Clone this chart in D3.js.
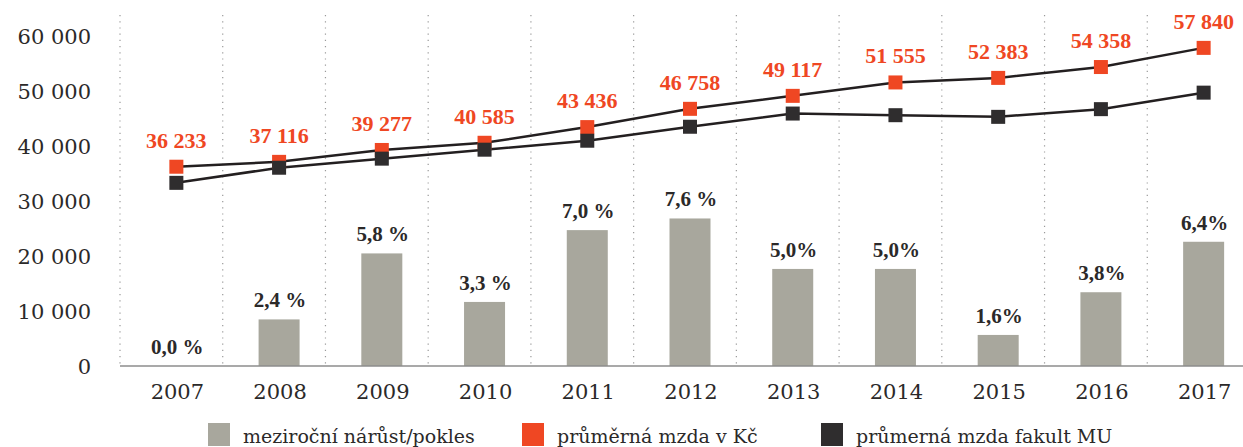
<!DOCTYPE html>
<html>
<head>
<meta charset="utf-8">
<script src="https://cdn.jsdelivr.net/npm/d3@7"></script>
<style>
  html, body { margin: 0; padding: 0; background: #fff; }
  #chart { width: 1243px; height: 447px; }
</style>
</head>
<body>
<div id="chart"></div>
<script>
// data
const years = ["2007", "2008", "2009", "2010", "2011", "2012", "2013", "2014", "2015", "2016", "2017"];
const growthPct = [0.0, 2.4, 5.8, 3.3, 7.0, 7.6, 5.0, 5.0, 1.6, 3.8, 6.4];
const growthLabels = ["0,0 %", "2,4 %", "5,8 %", "3,3 %", "7,0 %", "7,6 %", "5,0%", "5,0%", "1,6%", "3,8%", "6,4%"];
const wageCZ = [36233, 37116, 39277, 40585, 43436, 46758, 49117, 51555, 52383, 54358, 57840];
const wageMU = [33300, 36050, 37700, 39330, 40960, 43500, 45900, 45600, 45300, 46700, 49700];
const yTicks = [0, 10000, 20000, 30000, 40000, 50000, 60000];
const legendLabels = ["meziroční nárůst/pokles", "průměrná mzda v Kč", "průmerná mzda fakult MU"];

const COLORS = { bar: "#a8a79d", red: "#ef4723", dark: "#2f2d2e", line: "#231f20", text: "#2b2929" };

const width = 1243, height = 447;
const svg = d3.select("#chart").append("svg")
    .attr("width", width)
    .attr("height", height);

const x = d3.scaleBand().domain(years).range([122, 1252]);
const y = d3.scaleLinear().domain([0, 60000]).range([366, 36]);
// bars use a hidden percent axis sharing the same pixel range
const yPct = d3.scaleLinear().domain([0, 17]).range([366, 36]);
const cx = (d) => x(d) + x.bandwidth() / 2;

const fmt = (v) => d3.format(",")(v).replace(/,/g, " ");

// dotted vertical grid
const gridG = svg.append("g");
gridG.selectAll("line")
    .data(years)
    .join("line")
    .attr("x1", (d) => x(d) - 2)
    .attr("x2", (d) => x(d) - 2)
    .attr("y1", 15)
    .attr("y2", 366)
    .attr("stroke", "#9a9a9a")
    .attr("stroke-width", 1.2)
    .attr("stroke-dasharray", "1.2,5");

// y tick labels
svg.append("g").selectAll("text")
    .data(yTicks)
    .join("text")
    .attr("x", 91)
    .attr("y", (d) => y(d) + 1)
    .attr("dy", "0.35em")
    .attr("text-anchor", "end")
    .style("font-family", "'DejaVu Serif', serif")
    .style("font-size", "21px")
    .style("fill", COLORS.text)
    .text((d) => fmt(d));

// bars
svg.append("g").selectAll("rect")
    .data(years)
    .join("rect")
    .attr("x", (d) => cx(d) - 20.5 + 3)
    .attr("width", 41)
    .attr("y", (d, i) => yPct(growthPct[i]))
    .attr("height", (d, i) => yPct(0) - yPct(growthPct[i]))
    .attr("fill", COLORS.bar);

// x axis line
svg.append("line")
    .attr("x1", 120).attr("x2", width)
    .attr("y1", y(0)).attr("y2", y(0))
    .attr("stroke", "#8c8c8c")
    .attr("stroke-width", 1.5);

// year labels
svg.append("g").selectAll("text")
    .data(years)
    .join("text")
    .attr("x", (d) => cx(d) + 4)
    .attr("y", 399)
    .attr("text-anchor", "middle")
    .style("font-family", "'DejaVu Serif', serif")
    .style("font-size", "21px")
    .style("fill", COLORS.text)
    .text((d) => d);

// percentage labels
svg.append("g").selectAll("text")
    .data(years)
    .join("text")
    .attr("x", (d) => cx(d) + 4)
    .attr("y", (d, i) => yPct(growthPct[i]) - 12)
    .attr("text-anchor", "middle")
    .style("font-family", "'Liberation Serif', serif")
    .style("font-weight", "bold")
    .style("font-size", "21px")
    .style("fill", COLORS.text)
    .text((d, i) => growthLabels[i]);

// lines
const lineGen = (vals) => d3.line()
    .x((d) => cx(d) + 3)
    .y((d, i) => y(vals[i]));

svg.append("path")
    .datum(years)
    .attr("d", lineGen(wageCZ))
    .attr("fill", "none")
    .attr("stroke", COLORS.line)
    .attr("stroke-width", 2.5);

svg.append("path")
    .datum(years)
    .attr("d", lineGen(wageMU))
    .attr("fill", "none")
    .attr("stroke", COLORS.line)
    .attr("stroke-width", 2.5);

// markers (MU drawn above CZ)
const mk = 14;
svg.append("g").selectAll("rect")
    .data(years)
    .join("rect")
    .attr("x", (d) => cx(d) + 3 - mk / 2)
    .attr("y", (d, i) => y(wageCZ[i]) - mk / 2)
    .attr("width", mk).attr("height", mk)
    .attr("fill", COLORS.red);

svg.append("g").selectAll("rect")
    .data(years)
    .join("rect")
    .attr("x", (d) => cx(d) + 3 - mk / 2)
    .attr("y", (d, i) => y(wageMU[i]) - mk / 2)
    .attr("width", mk).attr("height", mk)
    .attr("fill", COLORS.dark);

// value labels above the red series
svg.append("g").selectAll("text")
    .data(years)
    .join("text")
    .attr("x", (d) => cx(d) + 3)
    .attr("y", (d, i) => y(wageCZ[i]) - 19)
    .attr("text-anchor", "middle")
    .style("font-family", "'Liberation Serif', serif")
    .style("font-weight", "bold")
    .style("font-size", "22px")
    .style("fill", COLORS.red)
    .text((d, i) => fmt(wageCZ[i]));

// legend
const legendX = [208, 522, 821];
const legendColors = [COLORS.bar, COLORS.red, COLORS.dark];
const legend = svg.append("g").selectAll("g")
    .data(legendLabels)
    .join("g")
    .attr("transform", (d, i) => `translate(${legendX[i]},423)`);

legend.append("rect")
    .attr("width", 22).attr("height", 23)
    .attr("fill", (d, i) => legendColors[i]);

legend.append("text")
    .attr("x", 35)
    .attr("y", 20)
    .style("font-family", "'DejaVu Serif', serif")
    .style("font-size", "19px")
    .style("fill", COLORS.text)
    .text((d) => d);
</script>
</body>
</html>
